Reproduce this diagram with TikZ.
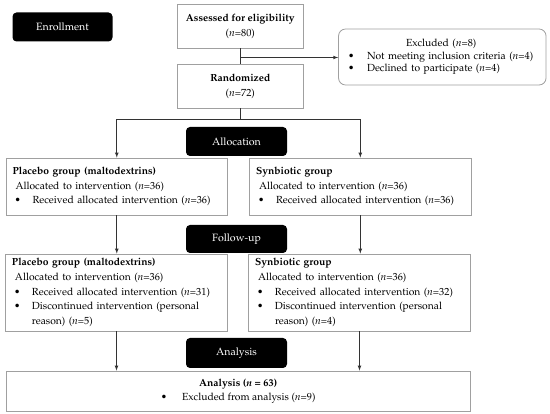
\documentclass[tikz,border=0pt]{standalone}
\usepackage[T1]{fontenc}
\usepackage{mathpazo}
\usepackage{xcolor}
\usepackage{tikz}
\usetikzlibrary{shapes.geometric, arrows, positioning}

\definecolor{boxgray}{HTML}{A0A0A0}
\definecolor{linegray}{HTML}{333333}

\newcommand{\bul}{\hspace*{2pt}\makebox[18pt][l]{\textbullet}}
\newcommand{\nn}{\textit{n}}

\begin{document}
\begin{tikzpicture}[x=1pt, y=-1pt, >=latex,
    box/.style={rectangle, draw=boxgray, line width=0.8pt, inner xsep=6.5pt,
      font=\fontsize{10.3}{14.8}\selectfont},
    stage/.style={rectangle, fill=black, rounded corners=4pt, text=white,
      minimum width=101pt, minimum height=29pt, font=\fontsize{10.6}{12}\selectfont},
    conn/.style={draw=linegray, line width=0.7pt}]
        \useasboundingbox (0,0) rectangle (550,414);

        \node (enrol) [stage, minimum width=100pt] at (62.5,27) {Enrollment};
        \node (assess) [box, minimum width=125.5pt, minimum height=44pt, align=center] at (240.3,26)
            {\textbf{Assessed for eligibility}\\(\nn=80)};
        \node (excl) [box, rounded corners=7pt, minimum width=207.5pt, minimum height=56pt,
            inner xsep=9.5pt, text width=188.5pt, align=left,
            font=\fontsize{10.3}{12.5}\selectfont] at (442.3,57)
            {\hspace*{58pt}Excluded (\nn=8)\\
             \makebox[19pt][l]{\textbullet}Not meeting inclusion criteria (\nn=4)\\
             \makebox[19pt][l]{\textbullet}Declined to participate (\nn=4)};
        \node (rand) [box, minimum width=125.5pt, minimum height=44pt, align=center] at (240.3,86)
            {\textbf{Randomized}\\(\nn=72)};

        \coordinate (branch) at (240.3,57.5);
        \coordinate (split) at (240.3,119);

        \node (alloc) [stage] at (236.5,141.5) {Allocation};
        \node (plac1) [box, minimum width=221.5pt, minimum height=57pt, text width=208.5pt, align=left] at (116.8,186.5)
            {\textbf{Placebo group (maltodextrins)}\\
             \hspace*{3pt}Allocated to intervention (\nn=36)\\
             \bul Received allocated intervention (\nn=36)};
        \node (synb1) [box, minimum width=221.5pt, minimum height=57pt, text width=208.5pt, align=left] at (360.3,186.5)
            {\textbf{Synbiotic group}\\
             \hspace*{3pt}Allocated to intervention (\nn=36)\\
             \bul Received allocated intervention (\nn=36)};

        \node (follow) [stage, minimum height=28pt] at (236.5,239) {Follow-up};
        \node (plac2) [box, minimum width=222pt, minimum height=77pt, text width=209pt, align=left] at (116.5,292.5)
            {\textbf{Placebo group (maltodextrins)}\\
             \hspace*{3pt}Allocated to intervention (\nn=36)\\
             \bul Received allocated intervention (\nn=31)\\
             \bul Discontinued intervention (personal\\
             \hspace*{20pt}reason) (\nn=5)};
        \node (synb2) [box, minimum width=222pt, minimum height=77pt, text width=209pt, align=left] at (359.5,292.5)
            {\textbf{Synbiotic group}\\
             \hspace*{3pt}Allocated to intervention (\nn=36)\\
             \bul Received allocated intervention (\nn=32)\\
             \bul Discontinued intervention (personal\\
             \hspace*{20pt}reason) (\nn=4)};

        \node (anstage) [stage, minimum height=30pt] at (236.5,353) {Analysis};
        \node (anal) [box, minimum width=464.5pt, minimum height=40pt, align=center,
            font=\fontsize{10.3}{13.7}\selectfont] at (238.2,391)
            {\textbf{Analysis (\nn\ = 63)}\\
             \textbullet\hspace{15pt}Excluded from analysis (\nn=9)};

        % enrollment
        \draw[conn] (assess.south -| split) -- (rand.north -| split);
        \draw[conn, ->] (branch) -- (branch -| excl.west);
        \draw[conn] (rand.south -| split) -- (split);

        % allocation
        \draw[conn, ->] (split) -| (plac1.north);
        \draw[conn, ->] (split) -| (synb1.north);

        % follow-up and analysis
        \draw[conn, ->] (plac1.south) -- (plac1.south |- plac2.north);
        \draw[conn, ->] (synb1.south) -- (synb1.south |- synb2.north);
        \draw[conn, ->] (plac2.south) -- (plac2.south |- anal.north);
        \draw[conn, ->] (synb2.south) -- (synb2.south |- anal.north);
    \end{tikzpicture}
\end{document}
